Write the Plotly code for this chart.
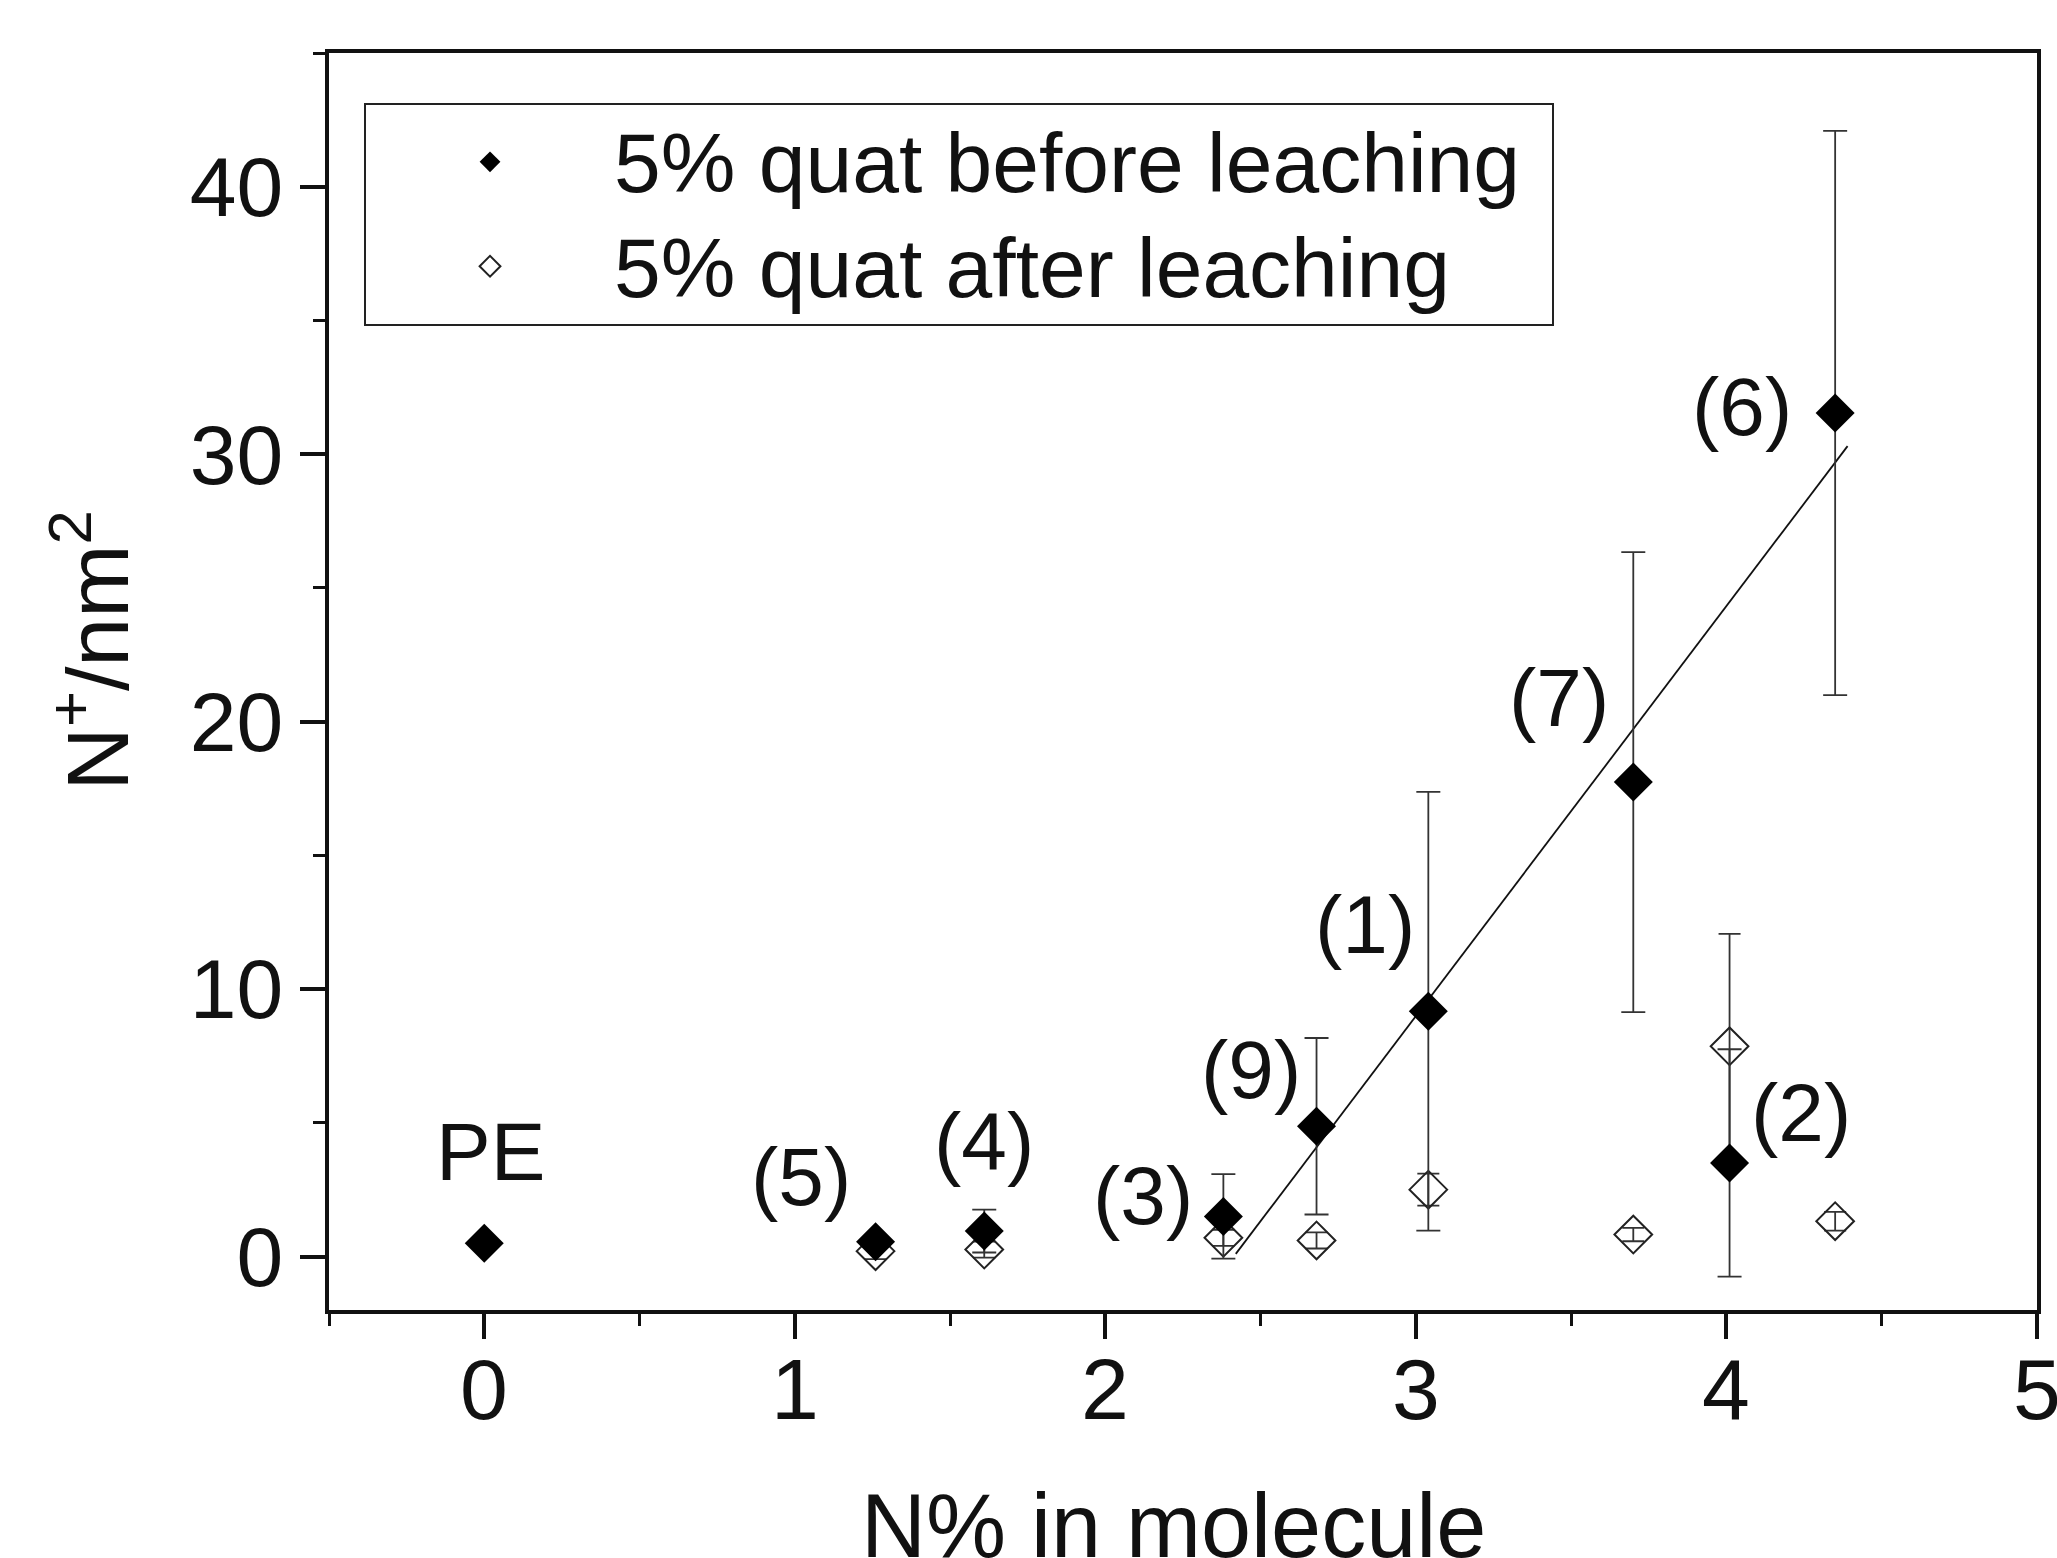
import plotly.graph_objects as go

# ---- data ----
before_x = [0.0, 1.26, 1.61, 2.38, 2.68, 3.04, 3.70, 4.01, 4.35]
before_y = [0.50, 0.55, 0.95, 1.50, 4.87, 9.17, 17.74, 3.50, 31.54]
before_err = [0.0, 0.0, 0.80, 1.58, 3.30, 8.20, 8.60, 4.25, 10.55]
point_labels = ["PE", "(5)", "(4)", "(3)", "(9)", "(1)", "(7)", "(2)", "(6)"]
label_x = [0.02, 1.02, 1.61, 2.12, 2.47, 2.835, 3.46, 4.24, 4.05]
label_y = [3.93, 3.0, 4.3, 2.3, 7.0, 12.4, 20.9, 5.4, 31.8]

after_x = [1.26, 1.61, 2.38, 2.68, 3.04, 3.70, 4.01, 4.35]
after_y = [0.20, 0.26, 0.70, 0.60, 2.50, 0.82, 7.86, 1.32]
after_err = [0.30, 0.30, 0.30, 0.30, 0.60, 0.25, 4.20, 0.35]

fit_x = [2.42, 4.39]
fit_y = [0.1, 30.3]

x_ticks = [0, 1, 2, 3, 4, 5]
x_tick_labels = ["0", "1", "2", "3", "4", "5"]
y_ticks = [0, 10, 20, 30, 40]
y_tick_labels = ["0", "10", "20", "30", "40"]

legend_names = ["5% quat before leaching", "5% quat after leaching"]
x_title = "N% in molecule"
y_title = "N<sup>+</sup>/nm<sup>2</sup>"

FONT = "Liberation Sans, Arial, Helvetica, sans-serif"
INK = "#111111"

fig = go.Figure()

fig.add_trace(go.Scatter(
    x=fit_x, y=fit_y, mode="lines",
    line=dict(color=INK, width=1.8), showlegend=False, hoverinfo="skip"))

fig.add_trace(go.Scatter(
    x=after_x, y=after_y, mode="markers",
    name="<span style='font-size:84px'>" + legend_names[1] + "</span>",
    legendrank=2,
    marker=dict(symbol="diamond-open", size=29, color="#222222",
                line=dict(width=2, color="#222222")),
    error_y=dict(type="data", array=after_err, visible=True,
                 color="#333333", thickness=1.8, width=11)))

fig.add_trace(go.Scatter(
    x=before_x, y=before_y, mode="markers",
    name="<span style='font-size:84px'>" + legend_names[0]
         + "</span><span style='font-size:48px'>\u00a0\u00a0</span>",
    legendrank=1,
    marker=dict(symbol="diamond", size=30, color="#000000",
                line=dict(width=0)),
    error_y=dict(type="data", array=before_err, visible=True,
                 color="#333333", thickness=1.8, width=12)))

for lx, ly, t in zip(label_x, label_y, point_labels):
    fig.add_annotation(x=lx, y=ly, text=t, showarrow=False,
                       font=dict(family=FONT, size=82, color=INK),
                       xanchor="center", yanchor="middle")

# x tick labels (placed on the x scale, just below the axis)
for xv, xt in zip(x_ticks, x_tick_labels):
    fig.add_annotation(x=xv, xref="x", y=-0.0632, yref="paper", text=xt,
                       showarrow=False, xanchor="center", yanchor="middle",
                       font=dict(family=FONT, size=86, color=INK))

# axis titles
fig.add_annotation(xref="paper", yref="paper", x=0.4947, y=-0.172,
                   text=x_title, showarrow=False,
                   xanchor="center", yanchor="middle",
                   font=dict(family=FONT, size=90, color=INK))
fig.add_annotation(xref="paper", yref="paper", x=-0.139, y=0.525,
                   text=y_title, textangle=-90,
                   showarrow=False, xanchor="center", yanchor="middle",
                   font=dict(family=FONT, size=88, color=INK))

fig.update_layout(
    width=2057, height=1558,
    margin=dict(l=329, r=20, t=53, b=248, autoexpand=False),
    paper_bgcolor="white", plot_bgcolor="white",
    font=dict(family=FONT, color=INK),
    legend=dict(
        x=0.0205, y=0.9605, xanchor="left", yanchor="top",
        bordercolor="#222222", borderwidth=2, bgcolor="white",
        font=dict(family=FONT, size=78, color=INK),
        itemwidth=238, tracegroupgap=0),
)

fig.update_xaxes(
    range=[-0.5, 5], tickvals=x_ticks, showticklabels=False,
    automargin=False,
    showgrid=False, zeroline=False,
    showline=True, linecolor=INK, linewidth=4, mirror=True,
    ticks="outside", ticklen=25, tickwidth=4, tickcolor=INK,
    minor=dict(dtick=0.5, tick0=-0.5, ticks="outside", ticklen=12,
               tickwidth=3, tickcolor=INK),
)
fig.update_yaxes(
    range=[-2, 45], tickvals=y_ticks, ticktext=y_tick_labels,
    automargin=False,
    showgrid=False, zeroline=False,
    showline=True, linecolor=INK, linewidth=4, mirror=True,
    ticks="outside", ticklen=25, tickwidth=4, tickcolor=INK,
    minor=dict(dtick=5, tick0=5, ticks="outside", ticklen=12,
               tickwidth=3, tickcolor=INK),
    tickfont=dict(family=FONT, size=84, color=INK),
    ticklabelstandoff=0,
)

fig.write_html(
    "out.html",
    config={"displayModeBar": False},
    post_script="document.body.style.margin='0';document.body.style.padding='0';",
)
